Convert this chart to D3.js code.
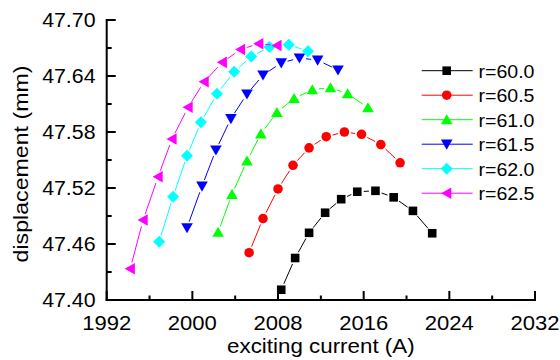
<!DOCTYPE html>
<html>
<head>
<meta charset="utf-8">
<script src="https://cdn.jsdelivr.net/npm/d3@7"></script>
<style>
  html, body { margin: 0; padding: 0; background: #fff; }
  svg { display: block; font-family: "Liberation Sans", Arial, sans-serif; }
</style>
</head>
<body>
<svg id="chart" width="560" height="360"></svg>
<script>
// Series labels
const seriesNames = ["r=60.0", "r=60.5", "r=61.0", "r=61.5", "r=62.0", "r=62.5"];

// Exciting current (A) per series
const current600 = [2008.3, 2009.6, 2010.9, 2012.4, 2013.9, 2015.4, 2017.1, 2018.8, 2020.6, 2022.4];
const current605 = [2005.3, 2006.6, 2008.0, 2009.4, 2010.9, 2012.5, 2014.2, 2015.8, 2017.6, 2019.4];
const current610 = [2002.4, 2003.7, 2005.1, 2006.4, 2007.9, 2009.5, 2011.2, 2012.9, 2014.5, 2016.4];
const current615 = [1999.5, 2000.9, 2002.2, 2003.6, 2005.1, 2006.6, 2008.3, 2010.0, 2011.7, 2013.6];
const current620 = [1996.9, 1998.2, 1999.5, 2000.8, 2002.3, 2003.9, 2005.5, 2007.2, 2009.0, 2010.8];
const current625 = [1994.2, 1995.4, 1996.8, 1998.1, 1999.6, 2001.1, 2002.8, 2004.5, 2006.2, 2007.9];

// Displacement (mm) per series
const disp600 = [47.411, 47.445, 47.472, 47.4935, 47.508, 47.516, 47.517, 47.510, 47.4955, 47.4715];
const disp605 = [47.4507, 47.4873, 47.519, 47.5443, 47.563, 47.575, 47.580, 47.5775, 47.5665, 47.547];
const disp610 = [47.4726, 47.5132, 47.549, 47.578, 47.601, 47.616, 47.6253, 47.6275, 47.621, 47.606];
const disp615 = [47.4774, 47.522, 47.5607, 47.5943, 47.6207, 47.641, 47.654, 47.6593, 47.657, 47.6464];
const disp620 = [47.4625, 47.5107, 47.5545, 47.5904, 47.621, 47.6445, 47.661, 47.671, 47.6735, 47.6666];
const disp625 = [47.4335, 47.4857, 47.532, 47.5725, 47.6065, 47.6338, 47.6546, 47.6684, 47.6746, 47.6727];

// Axis ticks
const xTicks = [1992, 2000, 2008, 2016, 2024, 2032];
const xMinorTicks = [1996, 2004, 2012, 2020, 2028];
const yTicks = [47.40, 47.46, 47.52, 47.58, 47.64, 47.70];
const yMinorTicks = [47.43, 47.49, 47.55, 47.61, 47.67];

const currents = [current600, current605, current610, current615, current620, current625];
const disps = [disp600, disp605, disp610, disp615, disp620, disp625];
const colors = ["#000000", "#ff0000", "#00ff00", "#0000ff", "#00ffff", "#ff00ff"];
const shapes = ["square", "circle", "triUp", "triDown", "diamond", "triLeft"];

const series = seriesNames.map((name, i) => ({
  name,
  color: colors[i],
  shape: shapes[i],
  points: currents[i].map((c, j) => ({ x: c, y: disps[i][j] }))
}));

const svg = d3.select("#chart");
const plotLeft = 106.7, plotRight = 535, plotTop = 20, plotBottom = 300;

const x = d3.scaleLinear().domain([1992, 2032]).range([plotLeft, plotRight]);
const y = d3.scaleLinear().domain([47.40, 47.70]).range([plotBottom, plotTop]);

// Text with a slight horizontal stretch, anchored at (tx, ty)
function stretchedText(parent, tx, ty, str, size, sx, anchor, rotate) {
  const g = parent.append("g")
    .attr("transform", `translate(${tx},${ty})${rotate ? ` rotate(${rotate})` : ""} scale(${sx},1)`);
  g.append("text").attr("x", 0).attr("y", 0)
    .attr("text-anchor", anchor).attr("font-size", size).attr("fill", "#000")
    .text(str);
  return g;
}

// Marker path generator, centred on the origin
function markerPath(shape) {
  switch (shape) {
    case "square":  return "M-4.3,-4.3H4.3V4.3H-4.3Z";
    case "circle":  return d3.symbol(d3.symbolCircle, 72)();
    case "triUp":   return "M0,-5.5L5.8,4.6L-5.8,4.6Z";
    case "triDown": return "M0,5.5L5.8,-4.6L-5.8,-4.6Z";
    case "diamond": return "M0,-6L6,0L0,6L-6,0Z";
    case "triLeft": return "M-5.5,0L4.6,-5.8L4.6,5.8Z";
  }
}

const plot = svg.append("g");
const gap = 6.5;

series.forEach(s => {
  const g = plot.append("g");
  // connecting segments, stopped short of each marker
  for (let j = 0; j < s.points.length - 1; j++) {
    const x1 = x(s.points[j].x), y1 = y(s.points[j].y);
    const x2 = x(s.points[j + 1].x), y2 = y(s.points[j + 1].y);
    const len = Math.hypot(x2 - x1, y2 - y1);
    if (len <= 2 * gap) continue;
    const ux = (x2 - x1) / len, uy = (y2 - y1) / len;
    g.append("line")
      .attr("x1", x1 + ux * gap).attr("y1", y1 + uy * gap)
      .attr("x2", x2 - ux * gap).attr("y2", y2 - uy * gap)
      .attr("stroke", s.color).attr("stroke-width", 1);
  }
  g.selectAll("path.mk").data(s.points).join("path")
    .attr("class", "mk")
    .attr("d", markerPath(s.shape))
    .attr("transform", d => `translate(${x(d.x)},${y(d.y)})`)
    .attr("fill", s.color);
});

// Axes: ticks point inward
const axisColor = "#000";
const xAxis = svg.append("g");
xAxis.append("line").attr("x1", plotLeft - 1).attr("x2", plotRight + 1).attr("y1", plotBottom).attr("y2", plotBottom)
  .attr("stroke", axisColor).attr("stroke-width", 2);
xAxis.selectAll("line.maj").data(xTicks).join("line").attr("class", "maj")
  .attr("x1", d => x(d)).attr("x2", d => x(d)).attr("y1", plotBottom).attr("y2", plotBottom - 9)
  .attr("stroke", axisColor).attr("stroke-width", 2);
xAxis.selectAll("line.min").data(xMinorTicks).join("line").attr("class", "min")
  .attr("x1", d => x(d)).attr("x2", d => x(d)).attr("y1", plotBottom).attr("y2", plotBottom - 4.5)
  .attr("stroke", axisColor).attr("stroke-width", 2);
xTicks.forEach(t => stretchedText(xAxis, x(t), 330, String(t), 21, 1.05, "middle"));

const yAxis = svg.append("g");
yAxis.append("line").attr("x1", plotLeft).attr("x2", plotLeft).attr("y1", plotTop - 1).attr("y2", plotBottom + 1)
  .attr("stroke", axisColor).attr("stroke-width", 2);
yAxis.selectAll("line.maj").data(yTicks).join("line").attr("class", "maj")
  .attr("x1", plotLeft).attr("x2", plotLeft + 9).attr("y1", d => y(d)).attr("y2", d => y(d))
  .attr("stroke", axisColor).attr("stroke-width", 2);
yAxis.selectAll("line.min").data(yMinorTicks).join("line").attr("class", "min")
  .attr("x1", plotLeft).attr("x2", plotLeft + 5).attr("y1", d => y(d)).attr("y2", d => y(d))
  .attr("stroke", axisColor).attr("stroke-width", 2);
yTicks.forEach(t => stretchedText(yAxis, 95.5, y(t) + 6.8, t.toFixed(2), 20.5, 1.04, "end"));

// Axis titles
stretchedText(svg, (plotLeft + plotRight) / 2, 353, "exciting current (A)", 20.5, 1.09, "middle");
stretchedText(svg, 28, 164, "displacement (mm)", 20.5, 1.13, "middle", -90);

// Legend
const legend = svg.append("g");
const legY0 = 70.7, legStep = 24.5;
series.forEach((s, i) => {
  const ly = legY0 + i * legStep;
  legend.append("line").attr("x1", 421.7).attr("x2", 472.7).attr("y1", ly).attr("y2", ly)
    .attr("stroke", s.color).attr("stroke-width", 1);
  legend.append("path").attr("d", markerPath(s.shape))
    .attr("transform", `translate(446.7,${ly})`).attr("fill", s.color);
  stretchedText(legend, 478.5, ly + 7, s.name, 19, 1.03, "start");
});
</script>
</body>
</html>
